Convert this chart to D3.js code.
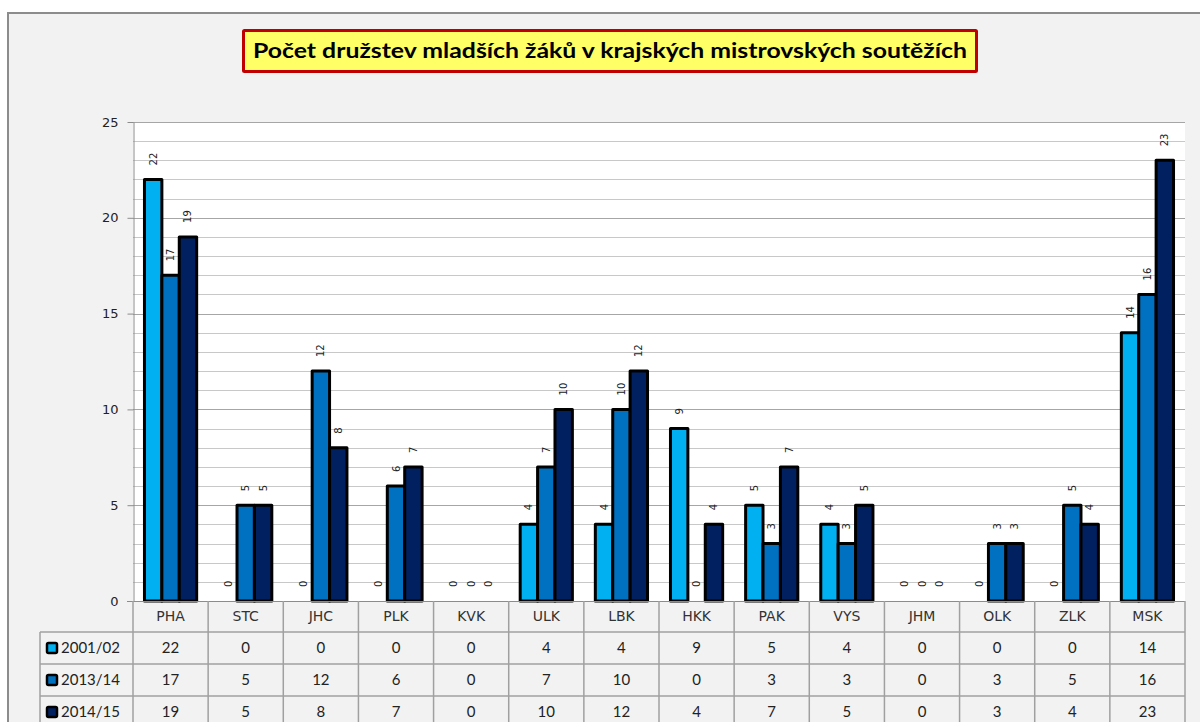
<!DOCTYPE html>
<html>
<head>
<meta charset="utf-8">
<script src="https://cdn.jsdelivr.net/npm/d3@7"></script>
<style>
	body { margin: 0; background: #fff; }
	svg { display: block; }
</style>
</head>
<body>
<svg id="chart" width="1200" height="722"></svg>
<script>
const categories = ['PHA', 'STC', 'JHC', 'PLK', 'KVK', 'ULK', 'LBK', 'HKK', 'PAK', 'VYS', 'JHM', 'OLK', 'ZLK', 'MSK'];
const seriesNames = ['2001/02', '2013/14', '2014/15'];
const values2001 = [22, 0, 0, 0, 0, 4, 4, 9, 5, 4, 0, 0, 0, 14];
const values2013 = [17, 5, 12, 6, 0, 7, 10, 0, 3, 3, 0, 3, 5, 16];
const values2014 = [19, 5, 8, 7, 0, 10, 12, 4, 7, 5, 0, 3, 4, 23];
const yTicks = [0, 5, 10, 15, 20, 25];
const title = 'Počet družstev mladších žáků v krajských mistrovských soutěžích';

const series = [values2001, values2013, values2014];
const colors = ['#00b0f0', '#0070c0', '#002060'];

const svg = d3.select('#chart');

const plotLeft = 133, plotRight = 1185, plotTop = 122, plotBottom = 601;
const rowH = [601, 632, 664, 696, 728];

// chart frame
svg.append('rect')
	.attr('x', 8).attr('y', 13).attr('width', 1220).attr('height', 740)
	.attr('fill', '#f2f2f2').attr('stroke', '#8c8c8c').attr('stroke-width', 2);

// title box
svg.append('rect')
	.attr('x', 243.5).attr('y', 30.5).attr('width', 733).attr('height', 41)
	.attr('fill', '#ffff66').attr('stroke', '#c00000').attr('stroke-width', 3).attr('rx', 1);
svg.append('text')
	.attr('x', 610).attr('y', 51)
	.attr('dy', '0.35em')
	.attr('text-anchor', 'middle')
	.attr('font-family', 'Lato, "Open Sans", sans-serif')
	.attr('font-weight', 'bold')
	.attr('font-size', 20)
	.attr('textLength', 714)
	.attr('lengthAdjust', 'spacingAndGlyphs')
	.text(title);

const x = d3.scaleBand().domain(categories).range([plotLeft, plotRight]);
const xs = d3.scaleBand().domain(d3.range(series.length)).range([0, x.bandwidth()]).paddingOuter(0.66);
const y = d3.scaleLinear().domain([0, 25]).range([plotBottom, plotTop]);

// plot area
svg.append('rect')
	.attr('x', plotLeft).attr('y', plotTop).attr('width', plotRight - plotLeft).attr('height', plotBottom - plotTop)
	.attr('fill', '#fff');

// gridlines (every unit, majors darker)
svg.append('g')
	.selectAll('line')
	.data(d3.range(1, 26))
	.join('line')
		.attr('x1', plotLeft).attr('x2', plotRight)
		.attr('y1', d => Math.round(y(d)) + 0.5).attr('y2', d => Math.round(y(d)) + 0.5)
		.attr('stroke', d => d % 5 === 0 ? '#a6a6a6' : '#c8c8c8')
		.attr('stroke-width', 1);

// y axis
const yAxis = svg.append('g')
	.attr('transform', `translate(${plotLeft + 0.5},0)`)
	.call(d3.axisLeft(y).tickValues(yTicks).tickSize(6).tickPadding(9).tickSizeOuter(0));
yAxis.select('.domain').attr('stroke', '#8c8c8c');
yAxis.selectAll('.tick line').attr('stroke', '#8c8c8c');
yAxis.selectAll('.tick text')
	.attr('font-family', '"DejaVu Sans", Verdana, sans-serif')
	.attr('font-size', 13)
	.attr('fill', '#222');

// bars
const groups = svg.append('g')
	.selectAll('g')
	.data(categories)
	.join('g')
		.attr('transform', d => `translate(${x(d)},0)`);

groups.selectAll('rect')
	.data((d, i) => series.map((s, k) => ({ k, v: s[i] })).filter(e => e.v > 0))
	.join('rect')
		.attr('x', d => xs(d.k))
		.attr('y', d => y(d.v))
		.attr('width', xs.bandwidth())
		.attr('height', d => y(0) - y(d.v))
		.attr('fill', d => colors[d.k])
		.attr('stroke', '#000')
		.attr('stroke-width', 3)
		.attr('stroke-linejoin', 'round');

groups.selectAll('text')
	.data((d, i) => series.map((s, k) => ({ k, v: s[i] })))
	.join('text')
		.attr('transform', d => `translate(${xs(d.k) + xs.bandwidth() / 2},${y(d.v) - 14}) rotate(-90)`)
		.attr('dy', '0.35em')
		.attr('font-family', '"DejaVu Sans", Verdana, sans-serif')
		.attr('font-size', 10)
		.attr('fill', '#222')
		.text(d => d.v);

// x axis line
svg.append('line')
	.attr('x1', plotLeft - 6).attr('x2', plotRight)
	.attr('y1', plotBottom + 0.5).attr('y2', plotBottom + 0.5)
	.attr('stroke', '#8c8c8c');

// data table
const grid = svg.append('g').attr('stroke', '#a0a0a0').attr('stroke-width', 1.5);
rowH.slice(1, 4).forEach(r => {
	grid.append('line').attr('x1', 40).attr('x2', plotRight).attr('y1', r).attr('y2', r);
});
grid.append('line').attr('x1', 40).attr('x2', 40).attr('y1', rowH[1]).attr('y2', 722);
categories.forEach(c => {
	grid.append('line').attr('x1', x(c)).attr('x2', x(c)).attr('y1', plotBottom).attr('y2', 722);
});
grid.append('line').attr('x1', plotRight).attr('x2', plotRight).attr('y1', plotBottom).attr('y2', 722);

svg.append('g')
	.selectAll('text')
	.data(categories)
	.join('text')
		.attr('x', d => x(d) + x.bandwidth() / 2)
		.attr('y', (rowH[0] + rowH[1]) / 2)
		.attr('dy', '0.35em')
		.attr('text-anchor', 'middle')
		.attr('font-family', '"DejaVu Sans", Verdana, sans-serif')
		.attr('font-size', 14)
		.attr('fill', '#333')
		.text(d => d);

series.forEach((s, k) => {
	const cy = (rowH[k + 1] + rowH[k + 2]) / 2;
	svg.append('rect')
		.attr('x', 47).attr('y', cy - 5).attr('width', 10).attr('height', 10)
		.attr('fill', colors[k]).attr('stroke', '#000').attr('stroke-width', 2.5).attr('rx', 1.5);
	svg.append('text')
		.attr('x', 61).attr('y', cy)
		.attr('dy', '0.35em')
		.attr('font-family', 'Lato, "Open Sans", sans-serif')
		.attr('font-size', 15)
		.attr('fill', '#222')
		.text(seriesNames[k]);
	svg.append('g')
		.selectAll('text')
		.data(s)
		.join('text')
			.attr('x', (d, i) => x(categories[i]) + x.bandwidth() / 2)
			.attr('y', cy)
			.attr('dy', '0.35em')
			.attr('text-anchor', 'middle')
			.attr('font-family', 'Lato, "Open Sans", sans-serif')
			.attr('font-size', 15)
			.attr('fill', '#222')
			.text(d => d);
});
</script>
</body>
</html>
